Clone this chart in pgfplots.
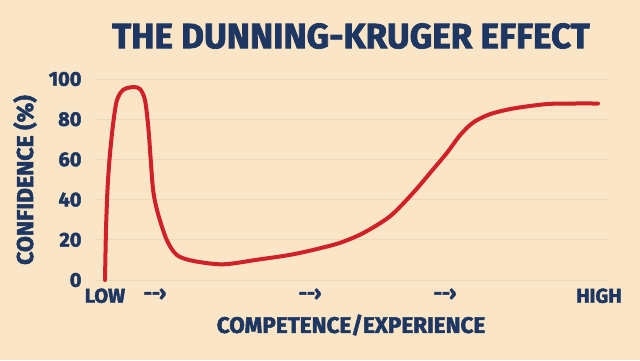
\documentclass[border=0pt]{standalone}
\usepackage{pgfplots}
\pgfplotsset{compat=1.18}
\usepackage{fontspec}
\setmainfont{Fira Sans}[BoldFeatures={FakeBold=2.2}]
\definecolor{bg}{RGB}{250,230,198}
\definecolor{navy}{RGB}{30,55,98}
\definecolor{curve}{RGB}{208,32,40}
\definecolor{gridc}{RGB}{236,216,186}
\begin{document}
\begin{tikzpicture}[x=1bp,y=1bp]
\fill[bg] (0,0) rectangle (640,360);
\node[font=\fontsize{35bp}{38bp}\selectfont\bfseries, text=navy, anchor=center] at (351,324) {THE DUNNING-KRUGER EFFECT};
\node[font=\fontsize{22.5bp}{24bp}\selectfont\bfseries, text=navy, anchor=center] at (351,35) {COMPETENCE/EXPERIENCE};
\node[font=\fontsize{23bp}{25bp}\selectfont\bfseries, text=navy, anchor=center, rotate=90] at (25,180) {CONFIDENCE (\%)};
\begin{axis}[
  at={(95bp,80bp)}, anchor=south west,
  scale only axis, width=513bp, height=201bp,
  xmin=95, xmax=608, ymin=0, ymax=100,
  axis line style={draw=none},
  ytick={0,20,40,60,80,100},
  xtick={105,155,310,445,599},
  xticklabels={LOW,-{}-\char"203A,-{}-\char"203A,-{}-\char"203A,HIGH},
  major tick length=0pt,
  ymajorgrids, major grid style={gridc, line width=0.8bp},
  tick label style={font=\fontsize{20bp}{22bp}\selectfont\bfseries, text=navy},
  /pgf/number format/assume math mode=true,
  yticklabel style={xshift=-10bp},
  xticklabel style={yshift=-5bp},
  clip=false,
]
\addplot[curve, line width=4bp, smooth, tension=0.5, line cap=round] coordinates {
(105,0) (106,25) (107.5,45) (109.5,60) (112.7,76) (116.7,89) (123,94.5) (133,96) (140,95) (145,89.5)
(148.3,76) (150.7,60) (153.3,44) (158,33) (166.7,20) (176.7,12.5) (193,9.5) (223,7.8) (256,10)
(290,12.5) (316,15.3) (340,18.5) (363,23.3) (390,31.7) (413,43.3) (433,55) (447,63.3) (460,72)
(473,78.3) (490,82.5) (513,85.3) (546,87.5) (573,87.8) (598,87.8)
};
\end{axis}
\end{tikzpicture}
\end{document}
